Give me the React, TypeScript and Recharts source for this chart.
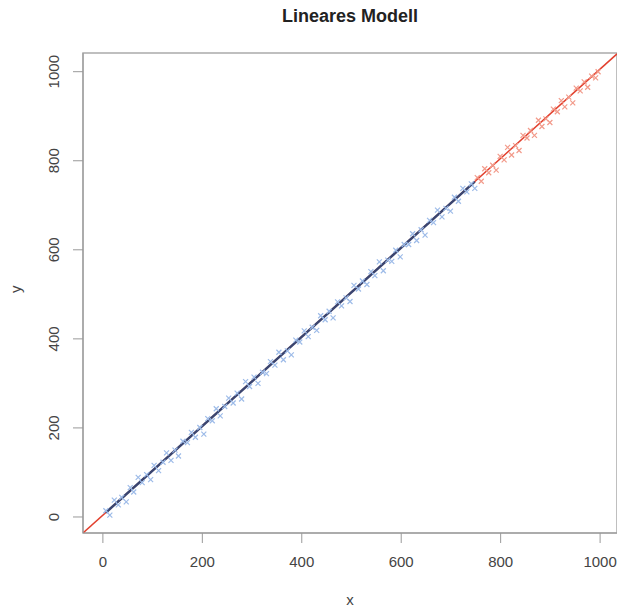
import React from 'react';
import {
  ScatterChart,
  Scatter,
  XAxis,
  YAxis,
  ReferenceLine,
  ReferenceArea,
  Label,
} from 'recharts';

// blue sample (training range)
const blueX = [
  6, 14, 23, 31, 38, 47, 55, 62, 71, 79, 88, 96, 103, 112, 121, 128, 137, 145, 152, 161,
  170, 178, 186, 195, 203, 211, 220, 228, 236, 245, 253, 262, 270, 279, 287, 295, 304, 312, 321, 329,
  337, 346, 354, 363, 371, 379, 388, 396, 405, 413, 421, 430, 438, 447, 455, 463, 472, 480, 489, 497,
  505, 514, 522, 531, 539, 547, 556, 564, 573, 581, 589, 598, 606, 615, 623, 631, 640, 648, 657, 665,
  673, 682, 690, 699, 707, 715, 724, 732, 741, 748,
];
const blueY = [
  14, 4, 38, 27, 44, 34, 66, 56, 89, 77, 95, 84, 116, 104, 123, 144, 127, 150, 137, 170,
  167, 190, 179, 201, 186, 221, 216, 243, 227, 248, 267, 256, 278, 265, 304, 293, 314, 300, 325, 322,
  349, 341, 370, 353, 373, 364, 397, 393, 418, 405, 426, 419, 452, 443, 462, 447, 483, 474, 492, 484,
  520, 512, 530, 522, 551, 542, 573, 553, 577, 574, 599, 584, 612, 612, 636, 621, 645, 633, 666, 661,
  689, 674, 693, 687, 718, 709, 738, 730, 748, 738,
];

// red sample (prediction range)
const redX = [
  753, 761, 768, 776, 784, 791, 799, 807, 814, 822, 830, 837, 845, 853, 860, 868, 876, 883, 891, 899,
  906, 914, 922, 929, 937, 945, 952, 960, 968, 975, 983, 991, 996,
];
const redY = [
  762, 754, 782, 773, 790, 779, 810, 802, 830, 813, 834, 823, 857, 851, 868, 857, 891, 877, 894, 886,
  916, 910, 935, 921, 943, 930, 963, 957, 977, 965, 990, 986, 1000,
];

const xTicks = [0, 200, 400, 600, 800, 1000];
const yTicks = [0, 200, 400, 600, 800, 1000];
const xDomain = [-40, 1034];
const yDomain = [-36, 1042];

// fitted lines
const redFit = [
  { x: -40, y: -36 },
  { x: 1034, y: 1040 },
];
const blueFit = [
  { x: 6, y: 10 },
  { x: 748, y: 753 },
];

const blueData = blueX.map((x, i) => ({ x, y: blueY[i] }));
const redData = redX.map((x, i) => ({ x, y: redY[i] }));

const FONT = '"Liberation Sans", Arial, sans-serif';

const Cross = (color: string) => (props: any) => {
  const { cx, cy } = props;
  const s = 2.5;
  return (
    <path
      d={`M${cx - s},${cy - s}L${cx + s},${cy + s}M${cx - s},${cy + s}L${cx + s},${cy - s}`}
      stroke={color}
      strokeWidth={1.2}
      fill="none"
    />
  );
};

const YTick = (props: any) => {
  const { x, y, payload } = props;
  return (
    <text
      x={x}
      y={y}
      transform={`rotate(-90, ${x}, ${y})`}
      textAnchor="middle"
      dominantBaseline="central"
      fill="#444"
      fontSize={15}
      fontFamily={FONT}
    >
      {payload.value}
    </text>
  );
};

export default function App() {
  return (
    <div style={{ position: 'absolute', left: 0, top: 0, width: 617, height: 609, background: '#fff' }}>
      <div
        style={{
          position: 'absolute',
          left: 83,
          width: 534,
          top: 6,
          textAlign: 'center',
          fontFamily: FONT,
          fontWeight: 'bold',
          fontSize: 18,
          color: '#222',
        }}
      >
        Lineares Modell
      </div>
      <ScatterChart width={617} height={609} margin={{ top: 53, right: 0, bottom: 0, left: 0 }}>
        <XAxis
          type="number"
          dataKey="x"
          domain={xDomain}
          ticks={xTicks}
          allowDataOverflow
          height={76}
          tickSize={10}
          tickMargin={13}
          stroke="#999"
          tick={{ fill: '#444', fontSize: 15, fontFamily: FONT }}
        >
          <Label value="x" position="insideBottom" offset={4} fill="#444" fontSize={15} fontFamily={FONT} />
        </XAxis>
        <YAxis
          type="number"
          dataKey="y"
          domain={yDomain}
          ticks={yTicks}
          allowDataOverflow
          width={83}
          tickSize={10}
          tickMargin={19}
          stroke="#999"
          tick={<YTick />}
        >
          <Label value="y" angle={-90} position="insideLeft" offset={16} fill="#444" fontSize={15} fontFamily={FONT} />
        </YAxis>
        <ReferenceArea
          x1={xDomain[0]}
          x2={xDomain[1]}
          y1={yDomain[0]}
          y2={yDomain[1]}
          fill="none"
          stroke="#aaa"
          strokeWidth={1.5}
        />
        <Scatter data={blueData} shape={Cross('#9dbbe8')} isAnimationActive={false} />
        <Scatter data={redData} shape={Cross('#f29a8a')} isAnimationActive={false} />
        <ReferenceLine segment={redFit} stroke="#e2402e" strokeWidth={1.5} ifOverflow="hidden" />
        <ReferenceLine segment={blueFit} stroke="#3a4570" strokeWidth={2.5} ifOverflow="hidden" />
      </ScatterChart>
    </div>
  );
}
